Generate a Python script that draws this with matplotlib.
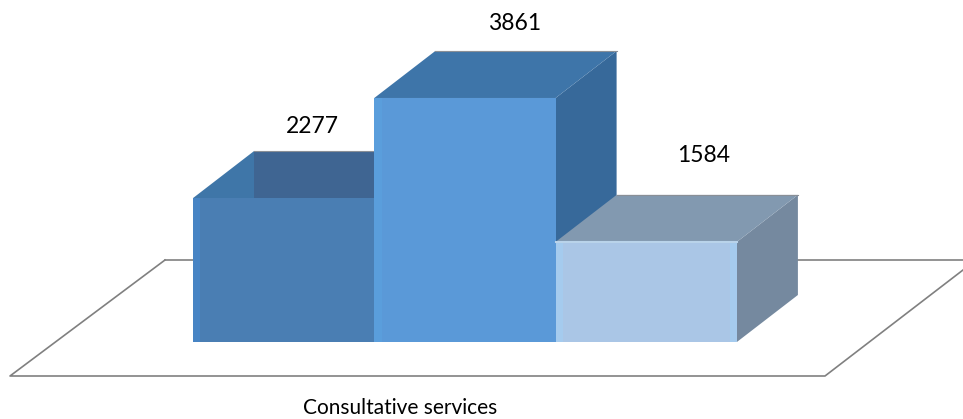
import matplotlib
matplotlib.use("Agg")
import matplotlib.pyplot as plt
from matplotlib.patches import Polygon
from matplotlib.lines import Line2D
from matplotlib.transforms import Affine2D

categories = ["Consultative services"]
series_positions = [0, 1, 2]
series_values = [2277, 3861, 1584]
value_labels = ["2277", "3861", "1584"]

front_colors = ["#4a7eb3", "#5a99d8", "#aac6e6"]
top_colors = ["#3f76a8", "#3e75a9", "#8299b0"]
wall_colors = ["#3f6592", "#37699a", "#75899f"]
edge_strip_colors = ["#4784c4", "#5a9edc", "#a5cbee"]
label_centres_px = [(312, 126), (515, 24), (704, 155)]
category_centre_px = (400, 408)

W, H = 963, 419
PX_PER_BAR = 181.3
PX_PER_VALUE = 0.0632
BAR_LEFT_PX = 193.0
BASE_PX = 342.0
DEPTH_X = 61 / PX_PER_BAR
DEPTH_Y = 47 / PX_PER_VALUE
GREY = "#808080"

fig = plt.figure(figsize=(W / 100, H / 100), dpi=100)
ax = fig.add_axes([0, 0, 1, 1])
ax.set_xlim(-BAR_LEFT_PX / PX_PER_BAR, (W - BAR_LEFT_PX) / PX_PER_BAR)
ax.set_ylim(-(H - BASE_PX) / PX_PER_VALUE, BASE_PX / PX_PER_VALUE)
ax.axis("off")

# floor of the 3D plot and text anchors, in picture pixels
to_px = Affine2D().scale(1 / W, -1 / H).translate(0, 1) + fig.transFigure
floor_x = [165, 10, 825, 963]
floor_y = [260, 376, 376, 270]
ax.add_line(Line2D(floor_x, floor_y, color=GREY, lw=1.2, transform=to_px, clip_on=False, zorder=1))
ax.add_line(Line2D([165, 200], [260, 260], color=GREY, lw=1.2, transform=to_px, zorder=1))
ax.add_line(Line2D([790, 963], [260, 260], color=GREY, lw=1.2, transform=to_px, zorder=1))

for i, (pos, val) in enumerate(zip(series_positions, series_values)):
    l, r = pos, pos + 1
    z = 2 + i
    # right side
    ax.add_patch(Polygon([(r, 0), (r + DEPTH_X, DEPTH_Y), (r + DEPTH_X, val + DEPTH_Y), (r, val)],
                         fc=wall_colors[i], ec="none", zorder=z))
    # top
    ax.add_patch(Polygon([(l, val), (r, val), (r + DEPTH_X, val + DEPTH_Y), (l + DEPTH_X, val + DEPTH_Y)],
                         fc=top_colors[i], ec="none", zorder=z))
    # darker back part seen behind the top of the first bar
    if i == 0:
        ax.add_patch(Polygon([(l + DEPTH_X, val), (r, val), (r, val + DEPTH_Y), (l + DEPTH_X, val + DEPTH_Y)],
                             fc=wall_colors[i], ec="none", zorder=z))
    # back top edge
    ax.plot([l + DEPTH_X, r + DEPTH_X], [val + DEPTH_Y] * 2, color="#8a8f96", lw=0.8, zorder=z)
    # front
    ax.bar(l + 0.5, val, width=1, color=front_colors[i], zorder=z + 0.1)
    # lighter edge strip of the front face
    strip = 0.04
    ax.bar(l + strip / 2, val, width=strip, color=edge_strip_colors[i], zorder=z + 0.2)
    if i == 2:
        ax.bar(r - strip / 2, val, width=strip, color=edge_strip_colors[i], zorder=z + 0.2)
        ax.plot([l, r], [val, val], color="#b9d3ea", lw=1.5, zorder=z + 0.3)
    ax.text(*label_centres_px[i], value_labels[i], transform=to_px,
            ha="center", va="center", fontsize=16.5, family="Lato", color="black", zorder=10)

ax.text(*category_centre_px, categories[0], transform=to_px, ha="center", va="center",
        fontsize=15, family="Lato", color="black", zorder=10)

fig.savefig("out.png", dpi=100, facecolor="white")
